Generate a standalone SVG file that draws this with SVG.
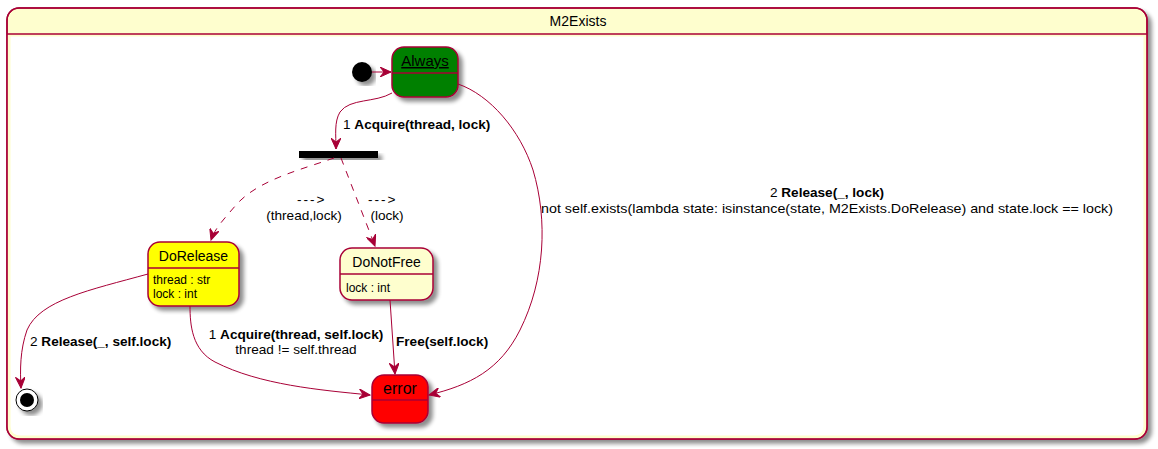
<svg xmlns="http://www.w3.org/2000/svg" width="1158" height="449" viewBox="0 0 1158 449">
<defs>
<filter id="sh" x="-20%" y="-20%" width="140%" height="140%">
<feGaussianBlur in="SourceAlpha" stdDeviation="2"/>
<feOffset dx="4" dy="4" result="b"/>
<feComponentTransfer><feFuncA type="linear" slope="0.45"/></feComponentTransfer>
<feMerge><feMergeNode/><feMergeNode in="SourceGraphic"/></feMerge>
</filter>
<marker id="arr" viewBox="0 0 12 10" refX="11" refY="5" markerWidth="12" markerHeight="10" markerUnits="userSpaceOnUse" orient="auto">
<path d="M0,0 L11,5 L0,10 L4,5 Z" fill="#A80036" stroke="#A80036" stroke-width="1"/>
</marker>
<style>
.st{stroke:#A80036;stroke-width:1.5}
.ln{fill:none;stroke:#A80036;stroke-width:1}
.dash{stroke-dasharray:7,7}
text{font-family:"Liberation Sans",Arial,sans-serif;fill:#000}
.nm{font-size:14px;text-anchor:middle}
.at{font-size:12px}
.lb{font-size:13.6px}
.b{font-weight:bold}
.c{text-anchor:middle}
.ar{letter-spacing:2px}
</style>
</defs>

<g id="M2Exists">
<rect x="7" y="8" width="1140" height="431" rx="12" ry="12" fill="#FEFECE" class="st" filter="url(#sh)"/>
<path d="M9,35 H1145 V425 Q1145,437 1133,437 H21 Q9,437 9,425 Z" fill="#FFFFFF"/>
<path d="M9,35 H1145 V425 Q1145,437 1133,437 H21 Q9,437 9,425 Z" fill="none" stroke="#FEFECE" stroke-width="3"/>
<rect x="7" y="8" width="1140" height="431" rx="12" ry="12" fill="none" class="st"/>
<line x1="7" y1="34" x2="1147" y2="34" class="st"/>
<text x="578" y="26" class="nm">M2Exists</text>
</g>

<g id="initial">
<circle cx="362" cy="72" r="10" fill="#000" filter="url(#sh)"/>
</g>

<g id="Always">
<rect x="392" y="47" width="66" height="50" rx="12" ry="12" fill="#008000" class="st" filter="url(#sh)"/>
<line x1="392" y1="73" x2="458" y2="73" class="st"/>
<text x="425" y="66" class="nm" style="font-size:15px" text-decoration="underline">Always</text>
</g>

<g id="fork">
<rect x="299" y="151" width="79" height="7" fill="#000" filter="url(#sh)"/>
</g>

<g id="DoRelease">
<rect x="148" y="242" width="91" height="64" rx="12" ry="12" fill="#FFFF00" class="st" filter="url(#sh)"/>
<line x1="148" y1="268" x2="239" y2="268" class="st"/>
<text x="193.5" y="261" class="nm">DoRelease</text>
<text x="153" y="284" class="at">thread : str</text>
<text x="153" y="298" class="at">lock : int</text>
</g>

<g id="DoNotFree">
<rect x="340" y="248" width="93" height="52" rx="12" ry="12" fill="#FEFECE" class="st" filter="url(#sh)"/>
<line x1="340" y1="274" x2="433" y2="274" class="st"/>
<text x="386.5" y="267" class="nm">DoNotFree</text>
<text x="346" y="292" class="at">lock : int</text>
</g>

<g id="error">
<rect x="372" y="375" width="56" height="48" rx="12" ry="12" fill="#FF0000" class="st" filter="url(#sh)"/>
<line x1="372" y1="400" x2="428" y2="400" class="st"/>
<text x="400" y="394" class="nm" style="font-size:16px">error</text>
</g>

<g id="final">
<circle cx="27" cy="400" r="11" fill="#FFFFFF" stroke="#000" stroke-width="1" filter="url(#sh)"/>
<circle cx="27" cy="400" r="7" fill="#000"/>
</g>

<g id="connectors">
<path d="M372,72 L391,72" class="ln" marker-end="url(#arr)"/>
<path d="M392,93 C375,103 350,98 340,112 C334,122 336,135 336,149" class="ln" marker-end="url(#arr)"/>
<path d="M458,84 C490,95 520,130 533,170 C548,220 545,280 520,330 C500,370 470,385 429,395" class="ln" marker-end="url(#arr)"/>
<path d="M334,158 C300,170 258,180 236,205 C225,218 215,228 211,240" class="ln dash" marker-end="url(#arr)"/>
<path d="M341,158 L375,246" class="ln dash" marker-end="url(#arr)"/>
<path d="M148,274 C90,290 40,300 27,330 C20,350 20,370 21,388" class="ln" marker-end="url(#arr)"/>
<path d="M190,306 C190,325 192,350 215,362 C260,385 320,390 370,395" class="ln" marker-end="url(#arr)"/>
<path d="M390,300 L395,374" class="ln" marker-end="url(#arr)"/>
</g>

<g id="labels">
<text x="343" y="129" class="lb">1 <tspan class="b">Acquire(thread, lock)</tspan></text>
<text x="297" y="204" class="lb ar">---&gt;</text>
<text x="304" y="220" class="lb c">(thread,lock)</text>
<text x="368" y="204" class="lb ar">---&gt;</text>
<text x="387" y="220" class="lb c">(lock)</text>
<text x="827" y="197" class="lb c">2 <tspan class="b">Release(_, lock)</tspan></text>
<text x="541" y="213" class="lb" textLength="572" lengthAdjust="spacingAndGlyphs">not self.exists(lambda state: isinstance(state, M2Exists.DoRelease) and state.lock == lock)</text>
<text x="30" y="346" class="lb">2 <tspan class="b">Release(_, self.lock)</tspan></text>
<text x="296" y="339" class="lb c">1 <tspan class="b">Acquire(thread, self.lock)</tspan></text>
<text x="296" y="354" class="lb c">thread != self.thread</text>
<text x="396" y="346" class="lb b">Free(self.lock)</text>
</g>
</svg>
